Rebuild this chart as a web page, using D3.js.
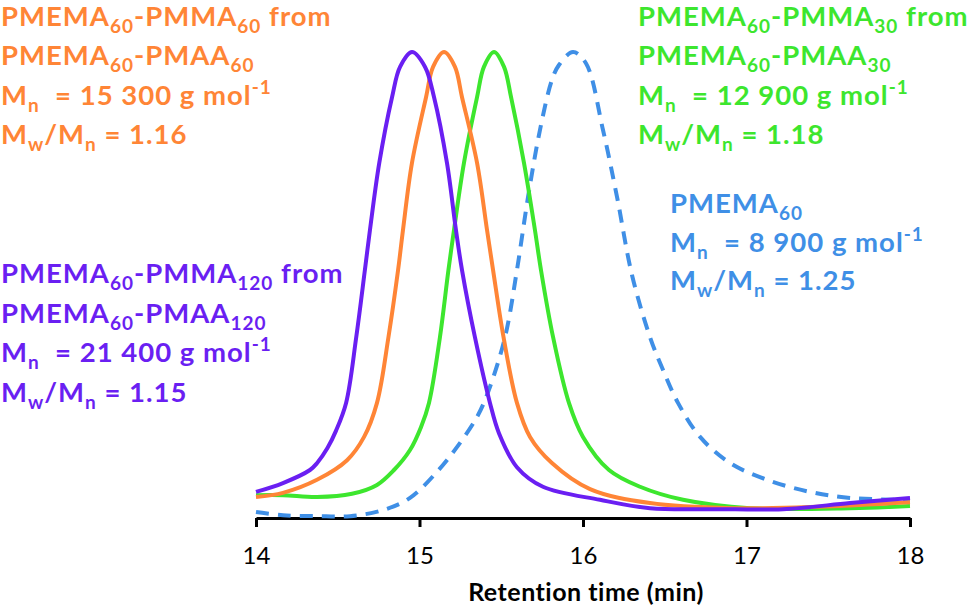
<!DOCTYPE html>
<html>
<head>
<meta charset="utf-8">
<script src="https://cdn.jsdelivr.net/npm/d3@7"></script>
<style>
  body { margin: 0; background: #fff; }
  svg { display: block; }
  .lbl { font-family: Lato, "Open Sans", sans-serif; font-weight: bold; font-size: 27.5px; letter-spacing: 1px; white-space: pre; }
  .axis text { font-family: Lato, "Open Sans", sans-serif; font-size: 24px; fill: #000; }
  .title { font-family: Lato, "Open Sans", sans-serif; font-weight: bold; font-size: 25px; letter-spacing: 0.5px; }
</style>
</head>
<body>
<script>
var w = 969;
var h = 613;

// retention time (min) and normalised RI signal
var purpleTime = [14.000, 14.165, 14.330, 14.374, 14.437, 14.489, 14.551, 14.613, 14.666, 14.697, 14.754, 14.832, 14.881, 14.954, 15.034, 15.089, 15.168, 15.223, 15.260, 15.339, 15.431, 15.486, 15.596, 15.755, 16.104, 16.410, 16.820, 17.223, 17.633, 18.000];
var purpleSignal = [0.056, 0.075, 0.103, 0.118, 0.150, 0.187, 0.247, 0.388, 0.532, 0.618, 0.762, 0.903, 0.968, 1.000, 0.968, 0.903, 0.762, 0.618, 0.532, 0.388, 0.247, 0.182, 0.109, 0.067, 0.039, 0.021, 0.019, 0.019, 0.032, 0.043];

var orangeTime = [14.000, 14.165, 14.373, 14.557, 14.661, 14.740, 14.810, 14.869, 14.899, 14.954, 15.040, 15.083, 15.150, 15.217, 15.260, 15.352, 15.413, 15.450, 15.514, 15.596, 15.676, 15.810, 16.043, 16.410, 16.917, 17.431, 18.000];
var orangeSignal = [0.045, 0.054, 0.082, 0.124, 0.174, 0.247, 0.388, 0.532, 0.618, 0.762, 0.903, 0.968, 1.000, 0.968, 0.903, 0.762, 0.618, 0.532, 0.388, 0.247, 0.174, 0.118, 0.062, 0.032, 0.021, 0.024, 0.034];

var greenTime = [14.000, 14.165, 14.373, 14.587, 14.740, 14.844, 14.942, 15.009, 15.058, 15.125, 15.177, 15.211, 15.272, 15.352, 15.394, 15.456, 15.517, 15.560, 15.639, 15.706, 15.743, 15.817, 15.914, 16.000, 16.159, 16.349, 16.612, 17.021, 17.633, 18.000];
var greenSignal = [0.049, 0.049, 0.045, 0.052, 0.071, 0.103, 0.146, 0.195, 0.247, 0.388, 0.532, 0.618, 0.762, 0.903, 0.968, 1.000, 0.968, 0.903, 0.762, 0.618, 0.532, 0.388, 0.247, 0.174, 0.103, 0.067, 0.039, 0.021, 0.021, 0.026];

var blueTime = [14.000, 14.165, 14.373, 14.575, 14.777, 14.942, 15.107, 15.229, 15.352, 15.419, 15.523, 15.596, 15.664, 15.737, 15.810, 15.853, 15.939, 16.018, 16.122, 16.208, 16.300, 16.410, 16.489, 16.581, 16.716, 16.899, 17.125, 17.388, 17.633, 18.000];
var blueSignal = [0.013, 0.006, 0.004, 0.004, 0.017, 0.043, 0.099, 0.152, 0.217, 0.270, 0.388, 0.532, 0.689, 0.833, 0.940, 0.972, 1.000, 0.976, 0.833, 0.689, 0.521, 0.388, 0.318, 0.247, 0.174, 0.118, 0.082, 0.056, 0.043, 0.039];

var xTicks = [14, 15, 16, 17, 18];

// label texts, _{} = subscript, ^{} = superscript
var purpleLabel = ["PMEMA_{60}-PMMA_{120} from", "PMEMA_{60}-PMAA_{120}", "M_{n}  = 21 400 g mol^{-1}", "M_{w}/M_{n} = 1.15"];
var orangeLabel = ["PMEMA_{60}-PMMA_{60} from", "PMEMA_{60}-PMAA_{60}", "M_{n}  = 15 300 g mol^{-1}", "M_{w}/M_{n} = 1.16"];
var greenLabel = ["PMEMA_{60}-PMMA_{30} from", "PMEMA_{60}-PMAA_{30}", "M_{n}  = 12 900 g mol^{-1}", "M_{w}/M_{n} = 1.18"];
var blueLabel = ["PMEMA_{60}", "M_{n}  = 8 900 g mol^{-1}", "M_{w}/M_{n} = 1.25"];

var purple = "#6a1ff2", orange = "#ff8536", green = "#3de62e", blue = "#3f8fe6";

var xScale = d3.scaleLinear().domain([14, 18]).range([256, 910]);
var yScale = d3.scaleLinear().domain([0, 1]).range([518, 52]);

var svg = d3.select("body").append("svg")
  .attr("width", w)
  .attr("height", h);

svg.append("rect").attr("width", w).attr("height", h).attr("fill", "#fff");

var line = d3.line()
  .x(function(d) { return xScale(d[0]); })
  .y(function(d) { return yScale(d[1]); })
  .curve(d3.curveCatmullRom.alpha(0.5));

function pairs(t, v) {
  return t.map(function(x, i) { return [x, v[i]]; });
}

// axis
var xAxis = d3.axisBottom(xScale)
  .tickValues(xTicks)
  .tickFormat(d3.format("d"))
  .tickSizeInner(9)
  .tickSizeOuter(0);

var gx = svg.append("g")
  .attr("class", "axis")
  .attr("transform", "translate(0,518)")
  .call(xAxis);
gx.select(".domain").attr("stroke", "#000").attr("stroke-width", 3);
gx.selectAll(".tick line").attr("stroke", "#000").attr("stroke-width", 3);
gx.selectAll(".tick text").attr("y", 38).attr("dy", "0.35em");

svg.append("text")
  .attr("class", "title")
  .attr("x", 586)
  .attr("y", 601)
  .attr("text-anchor", "middle")
  .text("Retention time (min)");

// traces, dashed one underneath
svg.append("path")
  .datum(pairs(blueTime, blueSignal))
  .attr("fill", "none")
  .attr("stroke", blue)
  .attr("stroke-width", 4)
  .attr("stroke-dasharray", "13,9")
  .attr("d", line);
svg.append("path")
  .datum(pairs(greenTime, greenSignal))
  .attr("fill", "none")
  .attr("stroke", green)
  .attr("stroke-width", 4)
  .attr("d", line);
svg.append("path")
  .datum(pairs(orangeTime, orangeSignal))
  .attr("fill", "none")
  .attr("stroke", orange)
  .attr("stroke-width", 4)
  .attr("d", line);
svg.append("path")
  .datum(pairs(purpleTime, purpleSignal))
  .attr("fill", "none")
  .attr("stroke", purple)
  .attr("stroke-width", 4)
  .attr("d", line);

// labels
function addLabel(lines, x, y0, step, color) {
  lines.forEach(function(str, i) {
    var t = svg.append("text")
      .attr("class", "lbl")
      .attr("x", x)
      .attr("y", y0 + i * step)
      .attr("fill", color);
    var parts = str.split(/([_^]\{[^}]*\})/);
    var shift = 0;
    parts.forEach(function(p) {
      if (!p) return;
      var dy = 0, size = null, txt = p;
      if (p[0] == "_") { dy = 7; size = 19; txt = p.slice(2, -1); }
      else if (p[0] == "^") { dy = -11; size = 19; txt = p.slice(2, -1); }
      var ts = t.append("tspan").attr("dy", dy - shift).text(txt);
      if (size) ts.attr("font-size", size);
      shift = dy;
    });
  });
}

addLabel(orangeLabel, 1, 26, 39.3, orange);
addLabel(greenLabel, 638, 26, 39.3, green);
addLabel(blueLabel, 670, 213, 38.7, blue);
addLabel(purpleLabel, 1, 283, 39.6, purple);
</script>
</body>
</html>
